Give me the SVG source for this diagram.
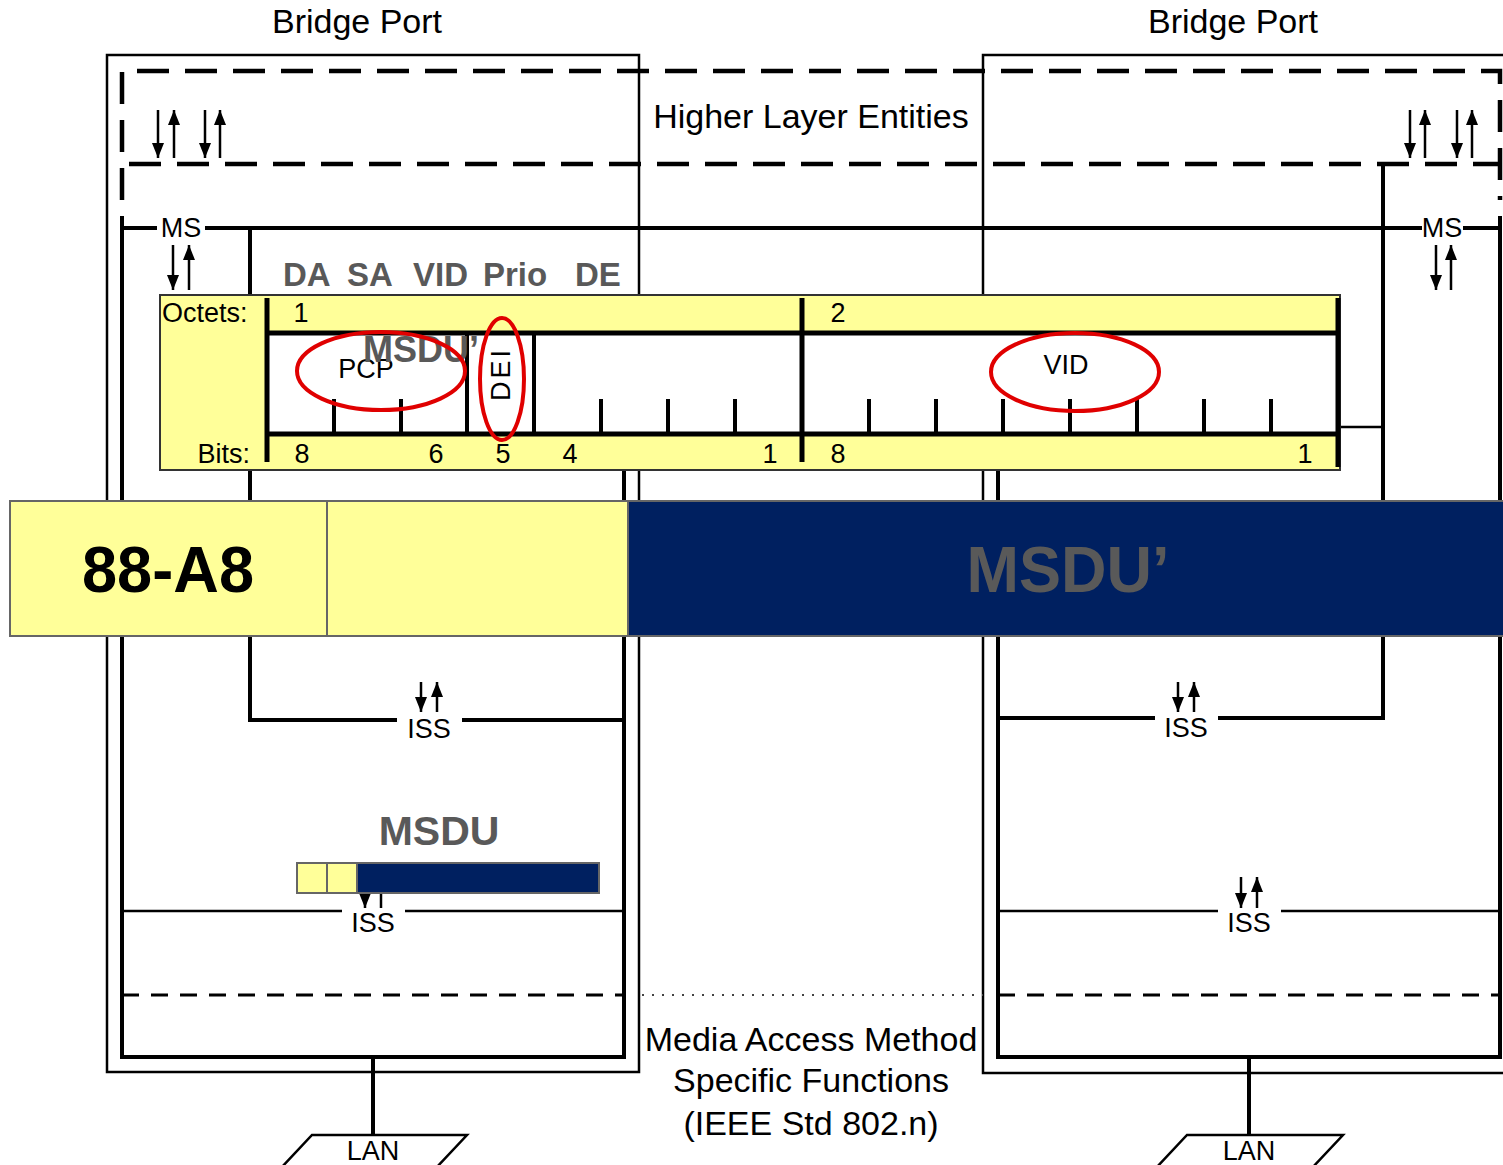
<svg xmlns="http://www.w3.org/2000/svg" width="1503" height="1165" viewBox="0 0 1503 1165">
<style>
  text { font-family: "Liberation Sans", Arial, sans-serif; fill: #000; }
  .t34 { font-size: 34px; }
  .t27 { font-size: 27px; }
  .mid { text-anchor: middle; }
  .gray { fill: #595959; font-weight: bold; }
  .thin { stroke: #000; stroke-width: 2.5; fill: none; }
  .thick { stroke: #000; stroke-width: 4; fill: none; }
  .hl { stroke: #000; stroke-width: 4.5; fill: none; stroke-dasharray: 32 16; }
  .dash { stroke: #000; stroke-width: 3; fill: none; stroke-dasharray: 17 12; }
  .dot { stroke: #444; stroke-width: 2; fill: none; stroke-dasharray: 2 8; }
  .arr { stroke: #000; stroke-width: 2.5; fill: none; marker-end: url(#ah); }
  .tbl { stroke: #000; stroke-width: 5; fill: none; }
  .tick { stroke: #000; stroke-width: 4; fill: none; }
  .ring { stroke: #e00000; stroke-width: 4; fill: none; }
  .yel { fill: #ffff99; stroke: #666; stroke-width: 2; }
  .navy { fill: #002060; stroke: #666; stroke-width: 2; }
</style>
<defs>
  <marker id="ah" viewBox="0 0 10 10" refX="10" refY="5" markerWidth="15" markerHeight="12" orient="auto" markerUnits="userSpaceOnUse" preserveAspectRatio="none">
    <path d="M0,0 L10,5 L0,10 z" fill="#000"/>
  </marker>
</defs>
<rect x="0" y="0" width="1503" height="1165" fill="#fff"/>

<g id="port-left">
  <text class="t34 mid" x="357" y="33">Bridge Port</text>
  <rect class="thin" x="107" y="55" width="532" height="1017"/>
  <path class="thick" d="M122,216 L122,1057 L624,1057 L624,470"/>
  <path class="thick" d="M250,228 L250,720 L397,720 M462,720 L624,720"/>
  <path class="thin" d="M122,911 L342,911 M405,911 L624,911"/>
  <path class="dash" d="M122,995 L624,995"/>
  <text class="t27 mid" x="429" y="738">ISS</text>
  <text class="t27 mid" x="373" y="932">ISS</text>
</g>

<g id="port-right">
  <text class="t34 mid" x="1233" y="33">Bridge Port</text>
  <path class="thin" d="M1510,55 L983,55 L983,1073 L1510,1073"/>
  <path class="thick" d="M1500,216 L1500,1057 L998,1057 L998,470"/>
  <path class="thick" d="M1383,164 L1383,718 L1218,718 M1155,718 L998,718"/>
  <path class="thin" d="M998,911 L1218,911 M1281,911 L1500,911"/>
  <path class="dash" d="M998,995 L1500,995"/>
  <path class="thin" d="M1340,427 L1383,427"/>
  <text class="t27 mid" x="1186" y="737">ISS</text>
  <text class="t27 mid" x="1249" y="932">ISS</text>
</g>

<g id="higher-layer">
  <path class="hl" d="M122,200 L122,71 L1500,71 L1500,200"/>
  <path class="hl" d="M129,164 L1500,164"/>
  <text class="t34 mid" x="811" y="128">Higher Layer Entities</text>
</g>

<g id="ms-line">
  <path class="thick" d="M122,228 L157,228 M205,228 L1422,228 M1463,228 L1500,228"/>
  <text class="t27 mid" x="181" y="237">MS</text>
  <text class="t27 mid" x="1442" y="237">MS</text>
</g>

<g id="connectors">
  <line class="arr" x1="158" y1="110" x2="158" y2="158"/>
  <line class="arr" x1="174" y1="158" x2="174" y2="110"/>
  <line class="arr" x1="205" y1="110" x2="205" y2="158"/>
  <line class="arr" x1="220" y1="158" x2="220" y2="110"/>
  <line class="arr" x1="1410" y1="110" x2="1410" y2="158"/>
  <line class="arr" x1="1425" y1="158" x2="1425" y2="110"/>
  <line class="arr" x1="1457" y1="110" x2="1457" y2="158"/>
  <line class="arr" x1="1472" y1="158" x2="1472" y2="110"/>
  <line class="arr" x1="173" y1="245" x2="173" y2="290"/>
  <line class="arr" x1="189" y1="290" x2="189" y2="245"/>
  <line class="arr" x1="1436" y1="245" x2="1436" y2="290"/>
  <line class="arr" x1="1451" y1="290" x2="1451" y2="245"/>
  <line class="arr" x1="421" y1="682" x2="421" y2="712"/>
  <line class="arr" x1="437" y1="712" x2="437" y2="682"/>
  <line class="arr" x1="1178" y1="682" x2="1178" y2="712"/>
  <line class="arr" x1="1194" y1="712" x2="1194" y2="682"/>
  <line class="arr" x1="1241" y1="877" x2="1241" y2="908"/>
  <line class="arr" x1="1257" y1="908" x2="1257" y2="877"/>
  <line class="arr" x1="365" y1="877" x2="365" y2="908"/>
  <line class="arr" x1="381" y1="908" x2="381" y2="877"/>
  <path class="dot" d="M642,995 L983,995"/>
</g>

<g id="field-labels">
  <text class="gray" font-size="33" y="286"><tspan x="283">DA</tspan><tspan x="347">SA</tspan><tspan x="413">VID</tspan><tspan x="483">Prio</tspan><tspan x="575">DE</tspan></text>
</g>

<g id="tag-table">
  <rect x="160" y="295" width="1180" height="175" fill="#ffff99" stroke="#333" stroke-width="2"/>
  <rect x="267" y="333" width="1071" height="101" fill="#fff"/>
  <path class="tbl" d="M267,333 L1338,333 M267,434 L1338,434 M267,298 L267,462 M802,298 L802,462 M1338,298 L1338,467"/>
  <path class="tick" d="M467,333 L467,434 M534,333 L534,434"/>
  <path class="tick" d="M334,399 L334,434 M401,399 L401,434 M601,399 L601,434 M668,399 L668,434 M735,399 L735,434 M869,399 L869,434 M936,399 L936,434 M1003,399 L1003,434 M1070,399 L1070,434 M1137,399 L1137,434 M1204,399 L1204,434 M1271,399 L1271,434"/>
  <text class="t27" x="162" y="322">Octets:</text>
  <text class="t27 mid" x="301" y="322">1</text>
  <text class="t27 mid" x="838" y="322">2</text>
  <text class="t27" x="250" y="463" text-anchor="end">Bits:</text>
  <text class="t27 mid" x="302" y="463">8</text>
  <text class="t27 mid" x="436" y="463">6</text>
  <text class="t27 mid" x="503" y="463">5</text>
  <text class="t27 mid" x="570" y="463">4</text>
  <text class="t27 mid" x="770" y="463">1</text>
  <text class="t27 mid" x="838" y="463">8</text>
  <text class="t27 mid" x="1305" y="463">1</text>
  <text class="t27 mid" x="366" y="378">PCP</text>
  <text class="gray" font-size="36" x="363" y="362">MSDU’</text>
  <text class="t27 mid" letter-spacing="3" transform="translate(510,374) rotate(-90)">DEI</text>
  <text class="t27 mid" x="1066" y="374">VID</text>
  <ellipse class="ring" cx="381" cy="371" rx="84" ry="39"/>
  <ellipse class="ring" cx="502" cy="379" rx="22" ry="61"/>
  <ellipse class="ring" cx="1075" cy="372" rx="84" ry="39"/>
</g>

<g id="frame-band">
  <rect class="yel" x="10" y="501" width="317" height="135"/>
  <rect class="yel" x="327" y="501" width="301" height="135"/>
  <rect class="navy" x="628" y="501" width="880" height="135"/>
  <text x="168" y="592" font-size="64" font-weight="bold" text-anchor="middle" textLength="172" lengthAdjust="spacingAndGlyphs">88-A8</text>
  <text class="gray" x="1068" y="592" font-size="64" text-anchor="middle" textLength="203" lengthAdjust="spacingAndGlyphs">MSDU’</text>
</g>

<g id="msdu-small">
  <text class="gray mid" font-size="41" x="439" y="845">MSDU</text>
  <rect class="yel" x="297" y="863" width="30" height="30"/>
  <rect class="yel" x="327" y="863" width="30" height="30"/>
  <rect class="navy" x="357" y="863" width="242" height="30"/>
</g>

<g id="lan-left">
  <path class="thick" d="M373,1057 L373,1135"/>
  <path class="thin" d="M281,1168 L312,1135 L467,1135 L436,1168"/>
  <text class="t27 mid" x="373" y="1160">LAN</text>
</g>

<g id="lan-right">
  <path class="thick" d="M1249,1057 L1249,1135"/>
  <path class="thin" d="M1156,1168 L1187,1135 L1343,1135 L1312,1168"/>
  <text class="t27 mid" x="1249" y="1160">LAN</text>
</g>

<g id="mam-label">
  <text class="t34 mid" x="811" y="1051">Media Access Method</text>
  <text class="t34 mid" x="811" y="1092">Specific Functions</text>
  <text class="t34 mid" x="811" y="1135">(IEEE Std 802.n)</text>
</g>
</svg>
